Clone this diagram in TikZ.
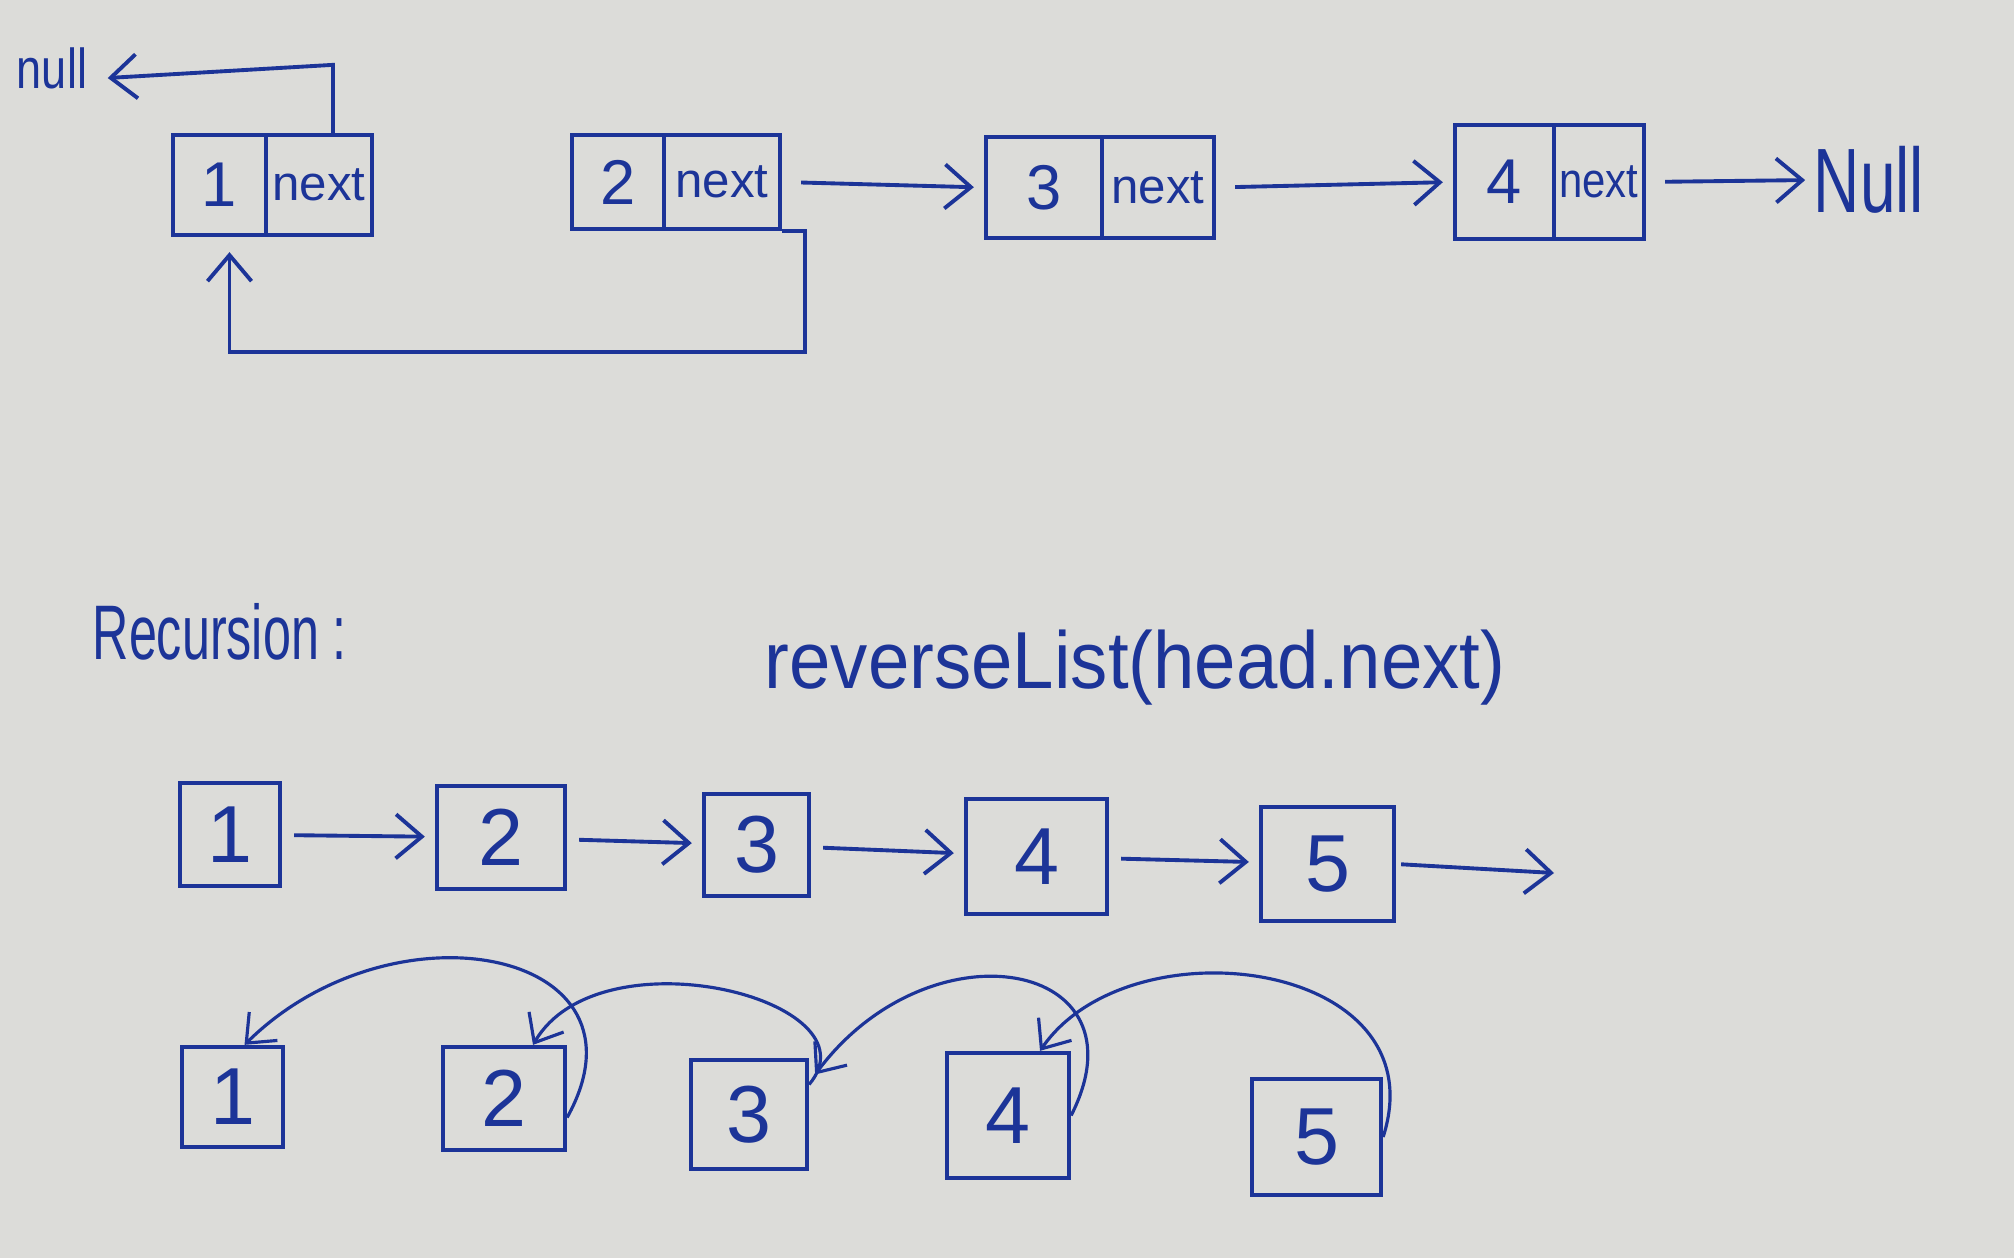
\documentclass[tikz,border=0pt]{standalone}
\usepackage{fontspec}
\usepackage{graphicx}
\setmainfont{Liberation Sans}
\usetikzlibrary{arrows.meta,calc}
\definecolor{paper}{RGB}{220,220,217}
\definecolor{ink}{RGB}{28,52,152}
\newcommand\myfs[1]{\fontsize{#1}{#1}\selectfont}
\begin{document}
\begin{tikzpicture}[x=0.01cm,y=-0.01cm,
  cell/.style={draw=ink, line width=1.2pt, text=ink, inner sep=0pt, font=\myfs{18pt}},
  box/.style={draw=ink, line width=1.2pt, text=ink, inner sep=0pt, font=\myfs{23pt}},
  arr/.style={draw=ink, line width=1.1pt, -{Straight Barb[length=2.6mm,width=4.4mm]}},
  curv/.style={draw=ink, line width=0.9pt, -{Straight Barb[length=2.4mm,width=4mm]}},
  lbl/.style={text=ink, inner sep=0pt}]
\fill[paper] (0,0) rectangle (2014,1258);
\useasboundingbox (0,0) rectangle (2014,1258);

% ---- top row ----
\node[cell,minimum width=0.93cm,minimum height=1.0cm] (n1v) at (219.5,185) {1};
\node[cell,minimum width=1.06cm,minimum height=1.0cm,font=\myfs{14pt}] (n1n) at (319,185) {next};
\node[cell,minimum width=0.92cm,minimum height=0.94cm] (n2v) at (618,182) {2};
\node[cell,minimum width=1.16cm,minimum height=0.94cm,font=\myfs{14pt}] (n2n) at (722,182) {next};
\node[cell,minimum width=1.16cm,minimum height=1.01cm] (n3v) at (1044,187.5) {3};
\node[cell,minimum width=1.12cm,minimum height=1.01cm,font=\myfs{14pt}] (n3n) at (1158,187.5) {next};
\node[cell,minimum width=0.99cm,minimum height=1.14cm] (n4v) at (1504.5,182) {4};
\node[cell,minimum width=0.90cm,minimum height=1.14cm,font=\myfs{14pt}] (n4n) at (1599,182) {\scalebox{0.85}[1]{next}};

\node[lbl,font=\myfs{16pt}] (null) at (52,68) {\scalebox{0.8}[1]{null}};
\node[lbl,font=\myfs{26pt}] (Null) at (1869,180) {\scalebox{0.7}[1]{Null}};

\draw[arr] ([xshift=0.14cm]n1n.north) -- ++(0,-68) -- ([xshift=0.2cm,yshift=-0.1cm]null.east);
\draw[arr, shorten >=0.15cm] (n2n.south east) -- ++(23,0) |- ($(n1v.south)+(10,115)$) -- ($(n1v.south)+(10,0)$);
\draw[arr, shorten <=0.19cm, shorten >=0.1cm] (n2n.east) -- (n3v.west);
\draw[arr, shorten <=0.19cm, shorten >=0.1cm] (n3n.east) -- (n4v.west);
\draw[arr, shorten <=0.19cm, shorten >=0.08cm] (n4n.east) -- (Null.west);

% ---- labels ----
\node[lbl,font=\myfs{22pt},anchor=west] (rec) at (92,632) {\scalebox{0.65}[1]{Recursion :}};
\node[lbl,font=\myfs{23pt}] (call) at (1135,668) {\scalebox{0.92}[1]{reverseList(head.next)}};

% ---- middle row ----
\node[box,minimum width=1.00cm,minimum height=1.03cm] (b1) at (230,834.5) {1};
\node[box,minimum width=1.28cm,minimum height=1.03cm] (b2) at (501,837.5) {2};
\node[box,minimum width=1.05cm,minimum height=1.02cm] (b3) at (756.5,845) {3};
\node[box,minimum width=1.41cm,minimum height=1.15cm] (b4) at (1036.5,856.5) {4};
\node[box,minimum width=1.33cm,minimum height=1.14cm] (b5) at (1327.5,864) {5};
\coordinate (b5end) at (1554,873);
\draw[arr, shorten <=0.12cm, shorten >=0.1cm] (b1) -- (b2);
\draw[arr, shorten <=0.12cm, shorten >=0.1cm] (b2) -- (b3);
\draw[arr, shorten <=0.12cm, shorten >=0.1cm] (b3) -- (b4);
\draw[arr, shorten <=0.12cm, shorten >=0.1cm] (b4) -- (b5);
\draw[arr, shorten <=0.05cm] (b5.east) -- (b5end);

% ---- bottom row ----
\node[box,minimum width=1.01cm,minimum height=1.00cm] (c1) at (232.5,1097) {1};
\node[box,minimum width=1.22cm,minimum height=1.03cm] (c2) at (504,1098.5) {2};
\node[box,minimum width=1.16cm,minimum height=1.09cm] (c3) at (749,1114.5) {3};
\node[box,minimum width=1.22cm,minimum height=1.25cm] (c4) at (1008,1115.5) {4};
\node[box,minimum width=1.29cm,minimum height=1.16cm] (c5) at (1316.5,1137) {5};

\draw[curv] ([yshift=-0.19cm]c2.east) .. controls (660,950) and (394,897) .. ([xshift=0.12cm]c1.north);
\draw[curv] ([yshift=0.3cm]c3.east) .. controls (880,1000) and (600,930) .. ([xshift=0.29cm]c2.north);
\draw[curv] (c4.east) .. controls (1150,960) and (930,920) .. ([xshift=0.06cm,yshift=0.4cm]c3.east);
\draw[curv] (c5.east) .. controls (1440,960) and (1130,920) .. ([xshift=0.32cm]c4.north);
\end{tikzpicture}
\end{document}
